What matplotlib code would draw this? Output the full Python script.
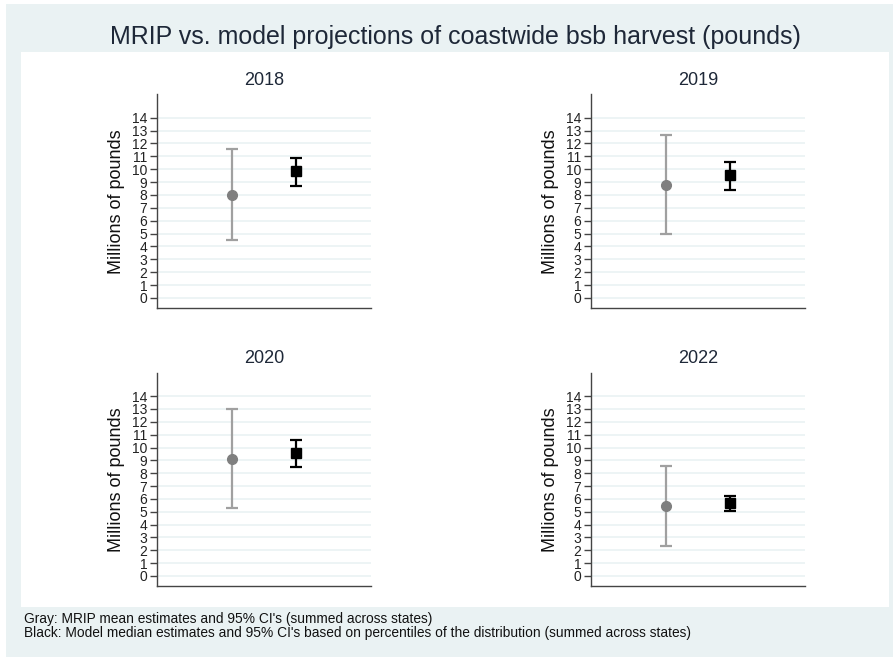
import numpy as np
import matplotlib.pyplot as plt
from matplotlib.patches import Rectangle

plt.rcParams['font.family'] = ['Liberation Sans', 'DejaVu Sans']

# data (millions of pounds)
years = ["2018", "2019", "2020", "2022"]
mrip_mean = [8.0, 8.8, 9.14, 5.43]
mrip_lo = [4.5, 4.94, 5.3, 2.36]
mrip_hi = [11.54, 12.68, 13.02, 8.54]
model_med = [9.83, 9.55, 9.6, 5.67]
model_lo = [8.67, 8.41, 8.49, 5.05]
model_hi = [10.84, 10.58, 10.58, 6.26]
yticks = list(range(0, 15))

W, H = 893, 657
BG = "#EAF2F3"
TXT = "#1E2838"

fig = plt.figure(figsize=(W / 100, H / 100), dpi=100)
fig.patch.set_facecolor("white")

def px_rect(x0, y0, x1, y1):
    # pixel box (top-left origin) -> figure fraction
    return [x0 / W, 1 - y1 / H, (x1 - x0) / W, (y1 - y0) / H]

l, b, w, h = px_rect(6, 4, 893, 657)
fig.patches.append(Rectangle((l, b), w, h, transform=fig.transFigure,
                             facecolor=BG, edgecolor="none", zorder=-10))
l, b, w, h = px_rect(21, 52, 889, 607)
fig.patches.append(Rectangle((l, b), w, h, transform=fig.transFigure,
                             facecolor="white", edgecolor="none", zorder=-9))

fig.text(455 / W, 1 - 37 / H,
         "MRIP vs. model projections of coastwide bsb harvest (pounds)",
         ha="center", va="center", fontsize=18, color=TXT)

boxes = [(157, 94.5, 371, 308), (591, 94.5, 805, 308),
         (157, 373, 371, 586), (591, 373, 805, 586)]

for i, yr in enumerate(years):
    ax = fig.add_axes(px_rect(*boxes[i]))
    ax.set_facecolor("none")
    ax.errorbar([1], [mrip_mean[i]],
                yerr=[[mrip_mean[i] - mrip_lo[i]], [mrip_hi[i] - mrip_mean[i]]],
                fmt="none", ecolor="#A0A0A0", elinewidth=1.6, capsize=4, capthick=1.6)
    ax.plot([1], [mrip_mean[i]], "o", color="#7F7F7F", ms=7, zorder=3)
    ax.errorbar([2], [model_med[i]],
                yerr=[[model_med[i] - model_lo[i]], [model_hi[i] - model_med[i]]],
                fmt="none", ecolor="black", elinewidth=1.6, capsize=4, capthick=1.6)
    ax.plot([2], [model_med[i]], "s", color="black", ms=7, zorder=3)

    ax.set_xlim(-0.15, 3.15)
    ax.set_ylim(-0.78, 15.8)
    ax.set_yticks(yticks)
    ax.set_yticklabels([str(t) for t in yticks])
    ax.set_xticks([])
    for t in yticks:
        ax.axhline(t, color=BG, lw=1.2, zorder=0)
    ax.spines["top"].set_visible(False)
    ax.spines["right"].set_visible(False)
    for s in ("left", "bottom"):
        ax.spines[s].set_color("#444444")
        ax.spines[s].set_linewidth(1.0)
    ax.tick_params(axis="y", direction="out", length=5, width=1, color="#444444",
                   labelsize=10, labelcolor="#222222", pad=2)
    ax.set_ylabel("Millions of pounds", fontsize=13, color="#111111", labelpad=5)
    ax.set_title(yr, fontsize=13, color=TXT, pad=7)

fig.text(24 / W, 1 - 619 / H, "Gray: MRIP mean estimates and 95% CI's (summed across states)",
         ha="left", va="center", fontsize=9.9, color="#111111")
fig.text(24 / W, 1 - 633 / H,
         "Black: Model median estimates and 95% CI's based on percentiles of the distribution (summed across states)",
         ha="left", va="center", fontsize=9.9, color="#111111")

fig.savefig("out.png", dpi=100, facecolor=fig.get_facecolor())
